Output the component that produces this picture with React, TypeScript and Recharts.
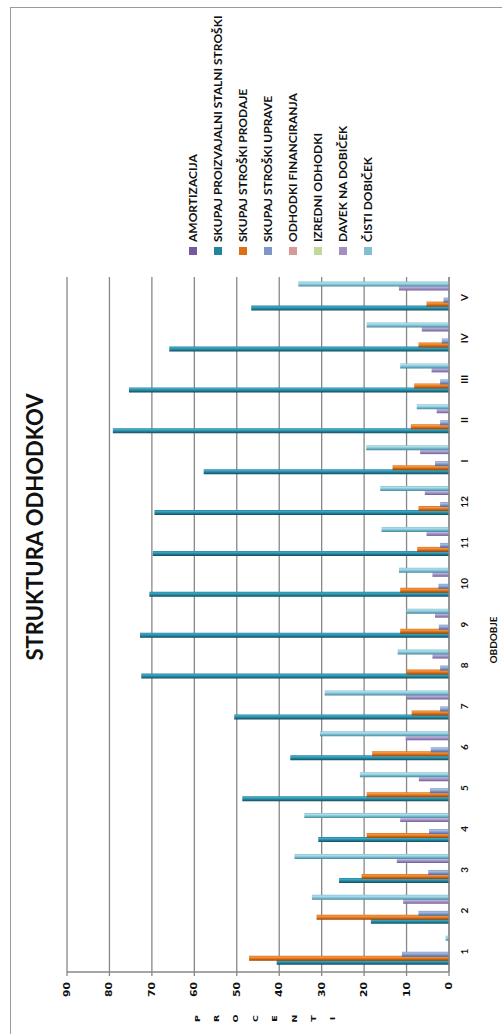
import React from 'react'
import { BarChart, Bar, XAxis, YAxis, CartesianGrid, Legend } from 'recharts'

// obdobja: meseci 1-12, nato I-V
const periods = ['1', '2', '3', '4', '5', '6', '7', '8', '9', '10', '11', '12', 'I', 'II', 'III', 'IV', 'V']

// deleži v %
const amortizacija = [0, 0, 0, 0, 0, 0, 0, 0, 0, 0, 0, 0, 0, 0, 0, 0, 0]
const proizvajalni = [40.6, 18.4, 25.9, 30.8, 48.7, 37.4, 50.6, 72.5, 72.8, 70.6, 69.8, 69.4, 57.8, 79.2, 75.4, 65.9, 46.6]
const prodaja = [47.1, 31.2, 20.6, 19.4, 19.4, 18.1, 8.8, 10.0, 11.5, 11.5, 7.5, 7.2, 13.3, 9.0, 8.2, 7.2, 5.3]
const uprava = [11.1, 7.2, 4.9, 4.7, 4.5, 4.3, 2.1, 2.1, 2.4, 2.5, 2.1, 2.1, 3.3, 2.1, 2.1, 1.7, 1.3]
const financiranje = [0, 0, 0, 0, 0, 0, 0, 0, 0, 0, 0, 0, 0, 0, 0, 0, 0]
const izredni = [0, 0, 0, 0, 0, 0, 0, 0, 0, 0, 0, 0, 0, 0, 0, 0, 0]
const davek = [0, 10.8, 12.3, 11.5, 7.1, 10.2, 10.0, 3.9, 3.3, 3.9, 5.3, 5.7, 6.8, 2.9, 4.1, 6.4, 11.8]
const dobicek = [0.8, 32.3, 36.4, 34.1, 21.0, 30.4, 29.3, 12.1, 10.0, 11.8, 15.9, 16.2, 19.5, 7.6, 11.5, 19.4, 35.5]

const valueTicks = [0, 10, 20, 30, 40, 50, 60, 70, 80, 90]
const axisTitle = ['P', 'R', 'O', 'C', 'E', 'N', 'T', 'I']

const series = [
  { key: 'amortizacija', name: 'AMORTIZACIJA', values: amortizacija, color: '#7459a0', dark: '#4e3a70', light: '#9a82c0' },
  { key: 'proizvajalni', name: 'SKUPAJ PROIZVAJALNI STALNI STROŠKI', values: proizvajalni, color: '#23849e', dark: '#124a59', light: '#3fa9c6' },
  { key: 'prodaja', name: 'SKUPAJ STROŠKI PRODAJE', values: prodaja, color: '#e06f14', dark: '#8e430a', light: '#f3994a' },
  { key: 'uprava', name: 'SKUPAJ STROŠKI UPRAVE', values: uprava, color: '#7e97c8', dark: '#4e6694', light: '#aabee2' },
  { key: 'financiranje', name: 'ODHODKI FINANCIRANJA', values: financiranje, color: '#d69a98', dark: '#a86e6c', light: '#ecc0be' },
  { key: 'izredni', name: 'IZREDNI ODHODKI', values: izredni, color: '#c3d69b', dark: '#92a86c', light: '#dce9c2' },
  { key: 'davek', name: 'DAVEK NA DOBIČEK', values: davek, color: '#a290c2', dark: '#6e5d98', light: '#c6b9de' },
  { key: 'dobicek', name: 'ČISTI DOBIČEK', values: dobicek, color: '#80bfd3', dark: '#44879b', light: '#b2e0ec' },
]

const data = periods.map((period, i) => {
  const row: Record<string, string | number> = { period }
  series.forEach((s) => {
    row[s.key] = s.values[i]
  })
  return row
})

const W = 1034
const H = 502
const GRID = '#878787'
const TEXT = '#111'

function ValueTick({ x, y, payload }: any) {
  return (
    <text
      transform={`translate(${x},${y}) scale(1.35,1)`}
      y={3}
      textAnchor="end"
      fontSize={8}
      fontWeight={700}
      fontFamily="DejaVu Sans"
      fill={TEXT}
    >
      {payload.value}
    </text>
  )
}

function LegendList() {
  return (
    <div style={{ fontFamily: 'Lato', fontWeight: 700, fontSize: 12, color: TEXT }}>
      {series.map((s) => (
        <div key={s.key} style={{ height: 25, display: 'flex', alignItems: 'center', whiteSpace: 'nowrap' }}>
          <span style={{ width: 8, height: 8, background: s.color, marginRight: 5, flex: 'none' }} />
          <span>{s.name}</span>
        </div>
      ))}
    </div>
  )
}

export default function App() {
  return (
    <div style={{ position: 'absolute', left: 0, top: 0, width: H, height: W, overflow: 'hidden', background: '#fff' }}>
      <div
        style={{
          position: 'absolute',
          left: 0,
          top: 0,
          width: W,
          height: H,
          transformOrigin: '0 0',
          transform: `translate(0px, ${W}px) rotate(-90deg)`,
        }}
      >
        <BarChart
          width={W}
          height={H}
          data={data}
          margin={{ top: 67, right: 277, bottom: 23, left: 22 }}
          barCategoryGap="8%"
          barGap={-1}
        >
          <defs>
            {series.map((s) => (
              <linearGradient key={s.key} id={`g-${s.key}`} x1="0" y1="0" x2="1" y2="0">
                <stop offset="0%" stopColor={s.dark} />
                <stop offset="40%" stopColor={s.color} />
                <stop offset="75%" stopColor={s.light} />
                <stop offset="100%" stopColor={s.color} />
              </linearGradient>
            ))}
          </defs>
          <CartesianGrid vertical={false} stroke={GRID} strokeWidth={1.3} />
          <XAxis
            dataKey="period"
            height={30}
            interval={0}
            tickLine={false}
            tickSize={0}
            tickMargin={12}
            axisLine={{ stroke: GRID, strokeWidth: 1.3 }}
            tick={{ fontSize: 10, fontWeight: 700, fill: TEXT, fontFamily: 'Lato' }}
          />
          <YAxis
            width={40}
            domain={[0, 90]}
            ticks={valueTicks}
            interval={0}
            tickSize={4}
            tickMargin={6}
            axisLine={{ stroke: GRID, strokeWidth: 1.3 }}
            tickLine={{ stroke: GRID, strokeWidth: 1.3 }}
            tick={<ValueTick />}
          />
          <Legend
            layout="vertical"
            align="center"
            verticalAlign="middle"
            wrapperStyle={{ left: 779, top: 180, width: 250 }}
            content={() => <LegendList />}
          />
          {series.map((s) => (
            <Bar key={s.key} dataKey={s.key} name={s.name} fill={`url(#g-${s.key})`} isAnimationActive={false} />
          ))}
        </BarChart>
        <svg width={W} height={H} style={{ position: 'absolute', left: 0, top: 0, pointerEvents: 'none' }}>
          <line x1={0} y1={10.5} x2={1026} y2={10.5} stroke="#9a9a9a" />
          <line x1={1026.5} y1={10} x2={1026.5} y2={H} stroke="#9a9a9a" />
          <text x={507} y={43} textAnchor="middle" fontSize={22} fontWeight={700} fontFamily="Lato" fill={TEXT}>
            STRUKTURA ODHODKOV
          </text>
          <text x={394} y={497} textAnchor="middle" fontSize={10} fontWeight={700} fontFamily="Lato" fill={TEXT}>
            OBDOBJE
          </text>
          {axisTitle.map((ch, i) => (
            <text
              key={i}
              transform={`translate(15.5,${197 + i * 19.4}) scale(1.35,1)`}
              y={2.5}
              textAnchor="middle"
              fontSize={7}
              fontWeight={700}
              fontFamily="DejaVu Sans"
              fill={TEXT}
            >
              {ch}
            </text>
          ))}
        </svg>
      </div>
    </div>
  )
}
